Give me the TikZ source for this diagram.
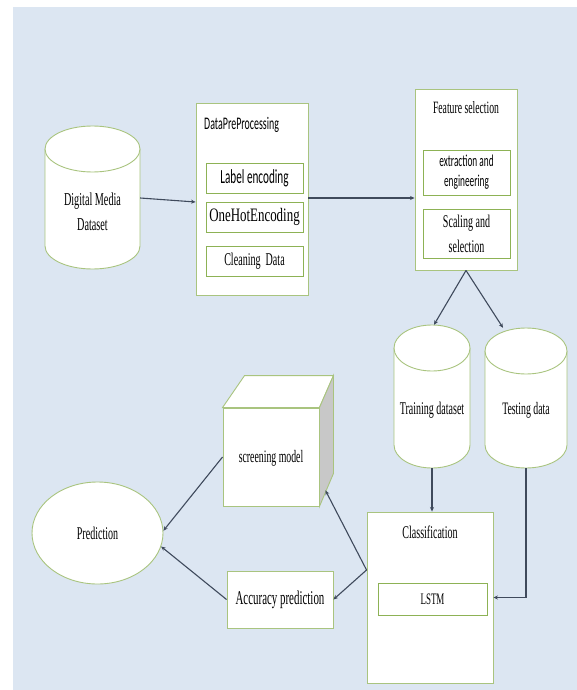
\documentclass[tikz,border=0pt]{standalone}
\usepackage{fontspec}
\setmainfont[FakeStretch=0.56]{Liberation Serif}
\newfontfamily\calfont[FakeStretch=0.56]{Carlito}
\newfontfamily\tnrwide[FakeStretch=0.68]{Liberation Serif}
\usetikzlibrary{shapes.geometric,arrows.meta,calc}
\definecolor{bg}{HTML}{DCE6F2}
\definecolor{boxgreen}{HTML}{A9C47F}
\definecolor{ingreen}{HTML}{8DB255}
\definecolor{arrowc}{HTML}{3F4A5C}
\definecolor{sidegray}{HTML}{C8C8C8}
\newcommand\fsz[2]{\fontsize{#1pt}{#2pt}\selectfont}
% name, cx, cy, width, height, ry
\newcommand\cylnode[6]{%
  \filldraw[cylstyle] ({#2-#4/2},{#3-#5/2+#6}) -- ({#2-#4/2},{#3+#5/2-#6})
    arc[start angle=180,end angle=0,x radius={#4/2},y radius=#6]
    -- ({#2+#4/2},{#3-#5/2+#6})
    arc[start angle=0,end angle=-180,x radius={#4/2},y radius=#6] -- cycle;
  \draw[cylstyle] ({#2-#4/2},{#3-#5/2+#6})
    arc[start angle=180,end angle=0,x radius={#4/2},y radius=#6];
  \node[minimum width=#4pt, minimum height=#5pt, inner sep=0pt] (#1) at (#2,#3) {};
}
\begin{document}
\begin{tikzpicture}[x=1pt,y=-1pt,
  box/.style={draw=boxgreen, fill=white, line width=0.9pt, inner sep=0pt, rectangle},
  inbox/.style={draw=ingreen, fill=white, line width=0.9pt, inner sep=0pt, rectangle, align=center},
  cylstyle/.style={draw=boxgreen, fill=white, line width=0.9pt},
  txt/.style={inner sep=0pt, align=center, font=\fsz{17.9}{25}},
  arr/.style={draw=arrowc, line width=1.1pt, -{Stealth[length=4.5pt,width=4pt]}},
  ln/.style={draw=arrowc, line width=1.1pt}]
\useasboundingbox (0,0) rectangle (577,690);
\fill[bg] (13,7) rectangle (577,690);

% Digital media dataset
\cylnode{dm}{92.5}{197.5}{95}{143}{23}
\node[txt, font=\fsz{18.2}{25}] (dmt) at (92.5,212) {Digital Media\\Dataset};

% DataPreProcessing
\node[box, minimum width=112pt, minimum height=192pt] (dpp) at (252,199) {};
\node[inner sep=0pt, anchor=west, font=\calfont\fsz{17.7}{20}] (dppt) at (204,125) {DataPreProcessing};
\node[inbox, minimum width=97pt, minimum height=30pt, font=\calfont\fsz{20}{22}] (lab) at (254.5,178) {Label encoding};
\node[inbox, minimum width=97pt, minimum height=30pt, font=\tnrwide\fsz{19}{22}] (ohe) at (254.5,217) {OneHotEncoding};
\node[inbox, minimum width=97pt, minimum height=30pt, font=\fsz{18}{22}] (cln) at (254.5,261) {Cleaning\ \ Data};

% Feature selection
\node[box, minimum width=102pt, minimum height=181pt] (fs) at (466,179.5) {};
\node[txt, font=\fsz{17.3}{20}] (fst) at (466,108) {Feature selection};
\node[inbox, minimum width=87pt, minimum height=45pt, font=\calfont\fsz{16.6}{20}] (ext) at (466.5,172.5) {extraction and\\engineering};
\node[inbox, minimum width=87pt, minimum height=49pt, font=\fsz{17.9}{25}] (scl) at (466.5,233.5) {Scaling and\\selection};

% Training / testing
\cylnode{tr}{432}{396.5}{76}{143}{23}
\node[txt, font=\fsz{17.9}{20}] (trt) at (432,410) {Training dataset};
\cylnode{te}{526}{398}{82}{140}{23}
\node[txt, font=\fsz{17.5}{20}] (tet) at (526,410) {Testing data};

% Classification
\node[box, minimum width=126pt, minimum height=171pt] (cls) at (430,597.5) {};
\node[txt] (clst) at (430,532) {Classification};
\node[inbox, minimum width=109pt, minimum height=32pt, font=\fsz{16}{18}] (lstm) at (432.5,599) {LSTM};

% Screening model cube
\node[box, minimum width=96pt, minimum height=98pt] (scr) at (271,457) {};
\filldraw[draw=boxgreen, fill=white, line width=0.9pt]
  (scr.north west) -- ($(scr.north west)+(22,-32)$) -- ($(scr.north east)+(14,-32)$) -- (scr.north east) -- cycle;
\filldraw[draw=boxgreen, fill=sidegray, line width=0.9pt]
  (scr.north east) -- ($(scr.north east)+(14,-32)$) -- ($(scr.south east)+(14,-33)$) -- (scr.south east) -- cycle;
\node[txt, font=\fsz{17.5}{20}] (scrt) at (271,458) {screening model};

% Accuracy prediction
\node[box, minimum width=106pt, minimum height=57pt, font=\fsz{19.5}{22}] (acc) at (280,599.5) {Accuracy prediction};

% Prediction
\node[ellipse, draw=boxgreen, fill=white, line width=0.9pt, minimum width=131pt, minimum height=102pt, inner sep=0pt, font=\fsz{17.9}{20}] (pred) at (97.5,533) {Prediction};

% connectors
\coordinate (cfrom) at ($(cls.north west)!0.34!(cls.south west)$);
\coordinate (side) at ($(scr.south east)+(6,-16)$);
\coordinate (dppout) at ($(dpp.east)+(0,-1)$);
\draw[arr] ($(dm.east)+(0,0.5)$) -- ($(dpp.west)+(0,3)$);
\draw[arr] (dppout) -- (dppout -| fs.west);
\draw[arr] (fs.south) -- ($(tr.north)+(2,0)$);
\draw[arr] (fs.south) -- ($(te.north)+(-23,0)$);
\draw[arr] (tr.south) -- (tr.south |- cls.north);
\draw[arr] (te.south) |- (cls.east);
\draw[arr] (cfrom) -- (acc.east);
\draw[arr] (cfrom) -- (side);
\draw[arr] (scr.west) -- (pred.2);
\draw[arr] (acc.west) -- (pred.-12);
\end{tikzpicture}
\end{document}
